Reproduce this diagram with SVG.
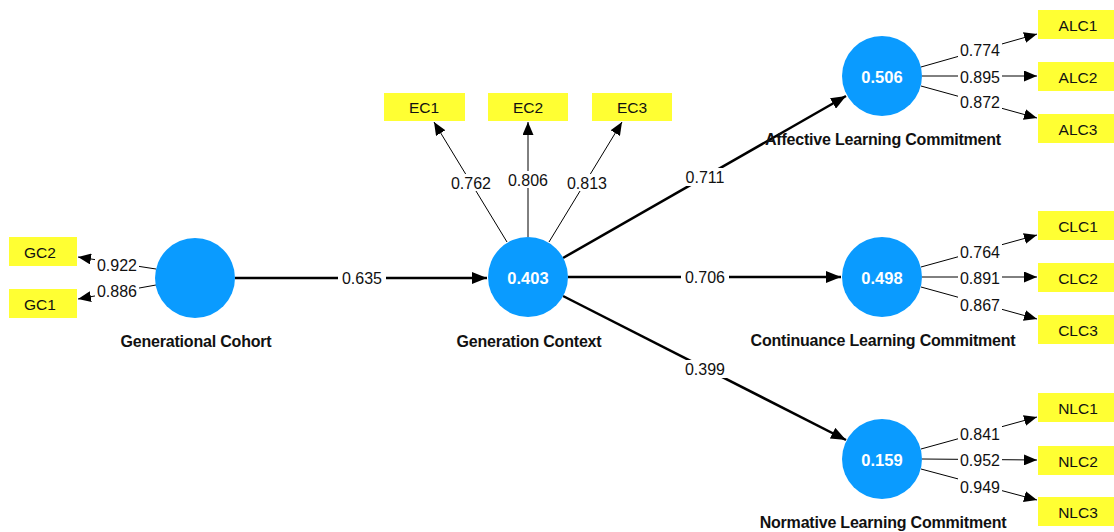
<svg xmlns="http://www.w3.org/2000/svg" width="1114" height="532" viewBox="0 0 1114 532">
<style>
.lv{fill:#0A9BFF}
.ind{fill:#FFFF33}
.it{font-family:"Liberation Sans",Arial,sans-serif;font-size:15.5px;fill:#111;text-anchor:middle;dominant-baseline:central}
.nm{font-family:"Liberation Sans",Arial,sans-serif;font-size:16px;font-weight:bold;fill:#111;text-anchor:middle;letter-spacing:-0.2px}
.val{font-family:"Liberation Sans",Arial,sans-serif;font-size:16.5px;font-weight:bold;fill:#fff;text-anchor:middle;dominant-baseline:central}
.thick{stroke:#000;stroke-width:2.5;fill:none;marker-end:url(#ah)}
.thin{stroke:#000;stroke-width:1;fill:none;marker-end:url(#ah2)}
.lb{font-family:"Liberation Sans",Arial,sans-serif;font-size:16px;fill:#111;text-anchor:middle;dominant-baseline:central}
.bg{fill:#fff}
</style>
<defs>
<marker id="ah" markerUnits="userSpaceOnUse" markerWidth="16" markerHeight="12" refX="15" refY="6" orient="auto">
<path d="M0,0 L15,6 L0,12 Z" fill="#000"/>
</marker>
<marker id="ah2" markerUnits="userSpaceOnUse" markerWidth="14" markerHeight="11" refX="13" refY="5.5" orient="auto">
<path d="M0,0 L13,5.5 L0,11 Z" fill="#000"/>
</marker>
</defs>
<rect width="1114" height="532" fill="#fff"/>
<g id="connectors">
<line class="thick" x1="235" y1="278" x2="487" y2="278"/>
<line class="thick" x1="563" y1="258" x2="846" y2="96"/>
<line class="thick" x1="568" y1="277" x2="841" y2="277"/>
<line class="thick" x1="563" y1="296" x2="846" y2="440"/>
<line class="thin" x1="156" y1="269" x2="78" y2="257"/>
<line class="thin" x1="156" y1="285" x2="78" y2="299"/>
<line class="thin" x1="507" y1="242" x2="434" y2="122"/>
<line class="thin" x1="528" y1="237" x2="528" y2="122"/>
<line class="thin" x1="549" y1="242" x2="622" y2="122"/>
<line class="thin" x1="921" y1="67" x2="1037" y2="34"/>
<line class="thin" x1="922" y1="76" x2="1037" y2="76"/>
<line class="thin" x1="921" y1="86" x2="1037" y2="118"/>
<line class="thin" x1="921" y1="267" x2="1037" y2="235"/>
<line class="thin" x1="922" y1="277" x2="1037" y2="277"/>
<line class="thin" x1="921" y1="287" x2="1037" y2="319"/>
<line class="thin" x1="921" y1="449" x2="1037" y2="417"/>
<line class="thin" x1="922" y1="459" x2="1037" y2="460"/>
<line class="thin" x1="921" y1="469" x2="1037" y2="500"/>
<g>
<rect class="bg" x="338" y="269" width="48" height="18"/><text class="lb" x="362" y="278">0.635</text>
<rect class="bg" x="681" y="168" width="48" height="18"/><text class="lb" x="705" y="177">0.711</text>
<rect class="bg" x="681" y="268" width="48" height="18"/><text class="lb" x="705" y="277">0.706</text>
<rect class="bg" x="681" y="360" width="48" height="18"/><text class="lb" x="705" y="369">0.399</text>
<rect class="bg" x="95" y="257" width="44" height="17"/><text class="lb" x="117" y="265">0.922</text>
<rect class="bg" x="95" y="283" width="44" height="17"/><text class="lb" x="117" y="291">0.886</text>
<rect class="bg" x="449" y="174" width="44" height="17"/><text class="lb" x="471" y="183">0.762</text>
<rect class="bg" x="506" y="171" width="44" height="17"/><text class="lb" x="528" y="180">0.806</text>
<rect class="bg" x="565" y="174" width="44" height="17"/><text class="lb" x="587" y="183">0.813</text>
<rect class="bg" x="958" y="42" width="44" height="17"/><text class="lb" x="980" y="50">0.774</text>
<rect class="bg" x="958" y="68" width="44" height="17"/><text class="lb" x="980" y="77">0.895</text>
<rect class="bg" x="958" y="94" width="44" height="17"/><text class="lb" x="980" y="102">0.872</text>
<rect class="bg" x="958" y="243" width="44" height="17"/><text class="lb" x="980" y="252">0.764</text>
<rect class="bg" x="958" y="269" width="44" height="17"/><text class="lb" x="980" y="278">0.891</text>
<rect class="bg" x="958" y="296" width="44" height="17"/><text class="lb" x="980" y="305">0.867</text>
<rect class="bg" x="958" y="425" width="44" height="17"/><text class="lb" x="980" y="434">0.841</text>
<rect class="bg" x="958" y="451" width="44" height="17"/><text class="lb" x="980" y="460">0.952</text>
<rect class="bg" x="958" y="478" width="44" height="17"/><text class="lb" x="980" y="487">0.949</text>
</g>
</g>
<g id="GC"><circle class="lv" cx="195" cy="278" r="40"/><text class="nm" x="196" y="347">Generational Cohort</text></g>
<g id="GCtx"><circle class="lv" cx="528" cy="277" r="40"/><text class="val" x="528" y="278">0.403</text><text class="nm" x="529" y="347">Generation Context</text></g>
<g id="ALC"><circle class="lv" cx="882" cy="76" r="40"/><text class="val" x="882" y="77">0.506</text><text class="nm" x="883" y="145">Affective Learning Commitment</text></g>
<g id="CLC"><circle class="lv" cx="882" cy="277" r="40"/><text class="val" x="882" y="278">0.498</text><text class="nm" x="883" y="346">Continuance Learning Commitment</text></g>
<g id="NLC"><circle class="lv" cx="882" cy="459" r="40"/><text class="val" x="882" y="460">0.159</text><text class="nm" x="883" y="528">Normative Learning Commitment</text></g>
<g id="GC2"><rect class="ind" x="9" y="237" width="68" height="29"/><text class="it" x="40" y="252">GC2</text></g>
<g id="GC1"><rect class="ind" x="9" y="289" width="68" height="29"/><text class="it" x="40" y="304">GC1</text></g>
<g id="EC1"><rect class="ind" x="384" y="93" width="81" height="28"/><text class="it" x="424" y="107">EC1</text></g>
<g id="EC2"><rect class="ind" x="488" y="93" width="80" height="28"/><text class="it" x="528" y="107">EC2</text></g>
<g id="EC3"><rect class="ind" x="592" y="93" width="80" height="28"/><text class="it" x="632" y="107">EC3</text></g>
<g id="ALC1"><rect class="ind" x="1038" y="10" width="76" height="29"/><text class="it" x="1078" y="25">ALC1</text></g>
<g id="ALC2"><rect class="ind" x="1038" y="62" width="76" height="29"/><text class="it" x="1078" y="77">ALC2</text></g>
<g id="ALC3"><rect class="ind" x="1038" y="114" width="76" height="29"/><text class="it" x="1078" y="129">ALC3</text></g>
<g id="CLC1"><rect class="ind" x="1038" y="211" width="76" height="29"/><text class="it" x="1078" y="226">CLC1</text></g>
<g id="CLC2"><rect class="ind" x="1038" y="263" width="76" height="29"/><text class="it" x="1078" y="278">CLC2</text></g>
<g id="CLC3"><rect class="ind" x="1038" y="315" width="76" height="29"/><text class="it" x="1078" y="330">CLC3</text></g>
<g id="NLC1"><rect class="ind" x="1038" y="393" width="76" height="29"/><text class="it" x="1078" y="408">NLC1</text></g>
<g id="NLC2"><rect class="ind" x="1038" y="446" width="76" height="29"/><text class="it" x="1078" y="461">NLC2</text></g>
<g id="NLC3"><rect class="ind" x="1038" y="497" width="76" height="29"/><text class="it" x="1078" y="512">NLC3</text></g>
</svg>
